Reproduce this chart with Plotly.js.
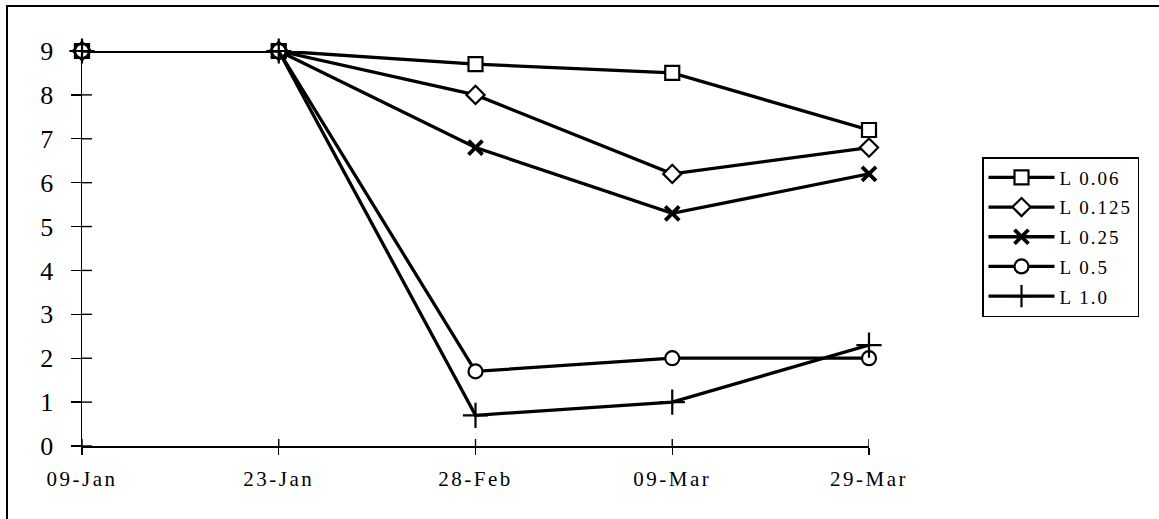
<!DOCTYPE html>
<html>
<head>
<meta charset="utf-8">
<script src="https://cdn.plot.ly/plotly-3.0.1.min.js"></script>
<style>
  html, body { margin: 0; padding: 0; background: #fff; }
  #chart { width: 1159px; height: 519px; }
  .xtick text { letter-spacing: 2.5px; }
  .legendtext { letter-spacing: 2px; }
</style>
</head>
<body>
<div id="chart"></div>
<script>
// Sampling dates (evenly spaced categories)
const dates = ['09-Jan', '23-Jan', '28-Feb', '09-Mar', '29-Mar'];

// Readings per treatment level
const seriesNames = ['L 0.06', 'L 0.125', 'L 0.25', 'L 0.5', 'L 1.0'];
const valsL006  = [9, 9, 8.7, 8.5, 7.2];
const valsL0125 = [9, 9, 8.0, 6.2, 6.8];
const valsL025  = [9, 9, 6.8, 5.3, 6.2];
const valsL05   = [9, 9, 1.7, 2.0, 2.0];
const valsL10   = [9, 9, 0.7, 1.0, 2.3];

const yTicks = [0, 1, 2, 3, 4, 5, 6, 7, 8, 9];

const serif = 'Liberation Serif, Times New Roman, serif';

const W = 1159, H = 519;
const M = { l: 82, r: 290, t: 51, b: 73 };
const plotW = W - M.l - M.r;
const plotH = H - M.t - M.b;

function trace(name, y, symbol, size, mlw, fill) {
  return {
    type: 'scatter',
    mode: 'lines+markers',
    name: name,
    legendgroup: name,
    x: dates,
    y: y,
    line: { color: '#000', width: 3.3 },
    marker: {
      symbol: symbol,
      size: size,
      color: fill,
      line: { color: '#000', width: mlw }
    },
    cliponaxis: false
  };
}

const data = [
  trace(seriesNames[0], valsL006,  'square',     14, 2.2, '#fff'),
  trace(seriesNames[1], valsL0125, 'diamond',    14, 2.2, '#fff'),
  trace(seriesNames[2], valsL025,  'x-thin',     14, 3.8, '#000'),
  trace(seriesNames[3], valsL05,   'circle',     14, 2.2, '#fff'),
  trace(seriesNames[4], valsL10,   'cross-thin', 18, 2.2, '#000')
];

// Inner halves of the tick marks, so each tick crosses its axis line
const tickStyle = { color: '#000', width: 1.4 };
const yInner = 10 / plotW;
const xInner = 7 / plotH;
const innerTicks = [];
yTicks.forEach(v => innerTicks.push({
  type: 'line', xref: 'paper', yref: 'y',
  x0: 0, x1: yInner, y0: v, y1: v, line: tickStyle
}));
dates.forEach((d, i) => innerTicks.push({
  type: 'line', xref: 'x', yref: 'paper',
  x0: i, x1: i, y0: 0, y1: xInner, line: tickStyle
}));

const layout = {
  width: W,
  height: H,
  paper_bgcolor: '#fff',
  plot_bgcolor: '#fff',
  margin: M,
  showlegend: true,
  xaxis: {
    type: 'category',
    categoryorder: 'array',
    categoryarray: dates,
    range: [0, 4],
    showgrid: false,
    zeroline: false,
    showline: true,
    linecolor: '#000',
    linewidth: 1.5,
    ticks: 'outside',
    ticklen: 7,
    tickwidth: 1.4,
    tickcolor: '#000',
    tickfont: { family: serif, size: 21, color: '#000' },
    ticklabelstandoff: 6
  },
  yaxis: {
    range: [0, 9],
    tickvals: yTicks,
    showgrid: false,
    zeroline: false,
    showline: true,
    linecolor: '#000',
    linewidth: 1.5,
    ticks: 'outside',
    ticklen: 10,
    tickwidth: 1.4,
    tickcolor: '#000',
    tickfont: { family: serif, size: 26, color: '#000' },
    ticklabelstandoff: 12
  },
  legend: {
    x: (982 - M.l) / plotW,
    y: (H - M.b - 157) / plotH,
    xanchor: 'left',
    yanchor: 'top',
    bgcolor: '#fff',
    bordercolor: '#000',
    borderwidth: 1.5,
    font: { family: serif, size: 19, color: '#000' },
    traceorder: 'grouped',
    tracegroupgap: 2,
    itemwidth: 66
  },
  shapes: [
    // figure frame (top and left edges fall inside the page)
    {
      type: 'rect', xref: 'paper', yref: 'paper',
      x0: (7 - M.l) / plotW, x1: 1.6,
      y0: -0.3, y1: (H - M.b - 6) / plotH,
      line: { color: '#000', width: 2 }, fillcolor: 'rgba(0,0,0,0)',
      layer: 'below'
    }
  ].concat(innerTicks)
};

Plotly.newPlot('chart', data, layout, { staticPlot: true, displayModeBar: false });
</script>
</body>
</html>
